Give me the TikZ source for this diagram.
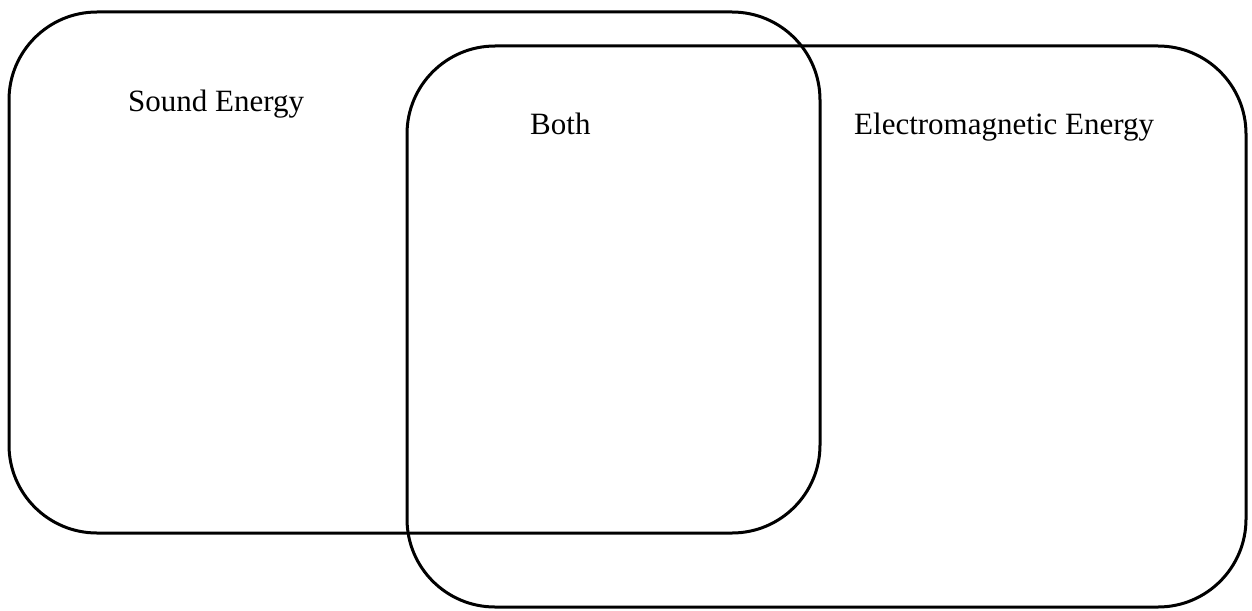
\documentclass[tikz,border=0pt]{standalone}
\usepackage{fontspec}
\setmainfont{Liberation Serif}
\begin{document}
\begin{tikzpicture}[x=1pt,y=-1pt,
                        set box/.style={draw,line width=3pt,rounded corners=88pt},
                        set label/.style={anchor=base west,inner sep=0pt,font=\fontsize{31}{37}\selectfont}
                       ]
      \useasboundingbox (0,0) rectangle (1252,610);
      % the two overlapping sets
      \draw[set box] (9,12) rectangle (820,533);
      \draw[set box] (407,46) rectangle (1246,607);
      \node[set label] (sound) at (128,111) {Sound Energy};
      \node[set label] (both) at (530,134) {Both};
      \node[set label] (em) at (854,134) {Electromagnetic Energy};
 \end{tikzpicture}
\end{document}
